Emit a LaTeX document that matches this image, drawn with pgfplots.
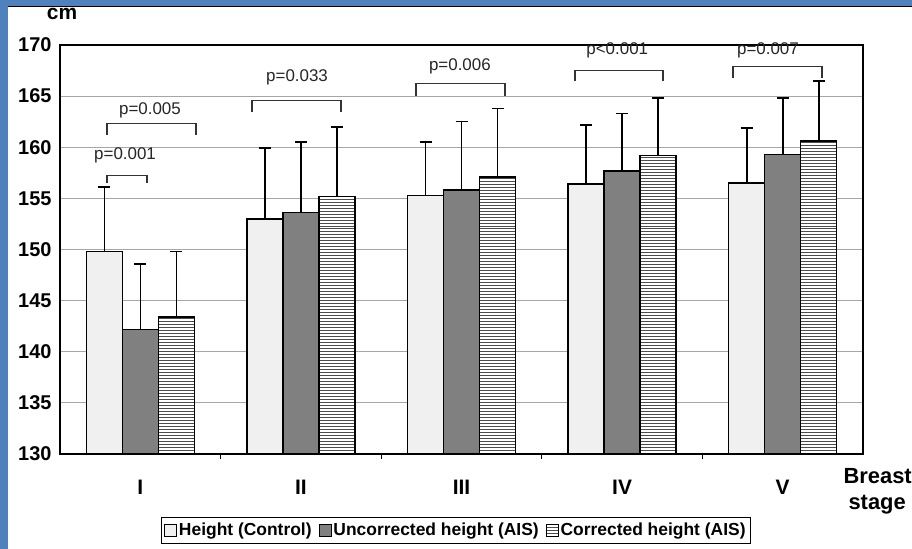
\documentclass[border=0pt]{standalone}
\usepackage{fontspec}
\setmainfont{Liberation Sans}
\usepackage{pgfplots}
\pgfplotsset{compat=1.18}
\usetikzlibrary{patterns}
\definecolor{slideblue}{RGB}{79,129,189}
\begin{document}
\begin{tikzpicture}
\useasboundingbox (0,0) rectangle (912bp,-549bp);
\fill[white] (0,0) rectangle (912bp,-549bp);
\fill[slideblue] (0,0) rectangle (912bp,-6bp);
\fill[slideblue] (0,0) rectangle (8bp,-549bp);
\draw[black, line width=0.8bp] (8bp,-6bp) -- (912bp,-6bp);
\begin{axis}[
  at={(60bp,-454bp)}, anchor=south west,
  width=803bp, height=409bp, scale only axis,
  ybar=0pt, bar width=36bp,
  xmin=-0.5, xmax=4.5, ymin=130, ymax=170,
  xtick={0,1,2,3,4}, xticklabels={I,II,III,IV,V},
  minor xtick={0.5,1.5,2.5,3.5},
  tick pos=left,
  major x tick style={draw=none},
  minor x tick style={black, line width=0.8bp},
  minor tick length=5bp,
  ytick={130,135,...,170},
  ytick style={draw=none},
  ymajorgrids, grid style={gray!70, line width=0.8bp},
  axis line style={black, line width=1.6bp},
  /pgf/number format/assume math mode=true,
  yticklabel style={font=\fontsize{20}{22}\selectfont\bfseries, xshift=-5bp},
  xticklabel style={font=\fontsize{21}{23}\selectfont\bfseries, yshift=-18bp},
  clip=false,
  legend columns=3,
  legend style={at={(0.493,-0.186)}, anchor=center, draw=black, line width=0.8bp,
    font=\fontsize{17.5}{20}\selectfont\bfseries, inner xsep=3bp, inner ysep=4bp,
    /tikz/every even column/.append style={column sep=5bp}},
  legend image code/.code={\draw[#1, line width=0.8bp] (0bp,-6bp) rectangle (12bp,6bp);},
  error bars/y dir=plus, error bars/y explicit,
  error bars/error bar style={black, line width=1.6bp},
  error bars/error mark options={black, line width=1.6bp, mark size=6bp, rotate=90},
]
\addplot[draw=black, line width=1.5bp, fill=gray!12] coordinates {
  (0,149.8) +- (0,6.3)
  (1,153.0) +- (0,6.9)
  (2,155.3) +- (0,5.2)
  (3,156.4) +- (0,5.8)
  (4,156.5) +- (0,5.4)
};
\addplot[draw=black, line width=1.5bp, fill=black!50] coordinates {
  (0,142.2) +- (0,6.4)
  (1,153.6) +- (0,6.9)
  (2,155.8) +- (0,6.7)
  (3,157.7) +- (0,5.6)
  (4,159.3) +- (0,5.5)
};
\addplot[draw=black, line width=1.5bp, fill=white, postaction={pattern=horizontal lines, pattern color=black!70}] coordinates {
  (0,143.4) +- (0,6.4)
  (1,155.2) +- (0,6.8)
  (2,157.1) +- (0,6.7)
  (3,159.2) +- (0,5.6)
  (4,160.6) +- (0,5.9)
};
\legend{Height (Control),Uncorrected height (AIS),Corrected height (AIS)}
% significance brackets
\begin{scope}[line width=1.2bp, black!80]
\draw (axis cs:-0.207,156.5) -- (axis cs:-0.207,157.25) -- (axis cs:0.042,157.25) -- (axis cs:0.042,156.5);
\draw (axis cs:-0.207,161.2) -- (axis cs:-0.207,162.35) -- (axis cs:0.347,162.35) -- (axis cs:0.347,161.2);
\draw (axis cs:0.696,163.4) -- (axis cs:0.696,164.6) -- (axis cs:1.25,164.6) -- (axis cs:1.25,163.4);
\draw (axis cs:1.717,165.0) -- (axis cs:1.717,166.2) -- (axis cs:2.271,166.2) -- (axis cs:2.271,165.0);
\draw (axis cs:2.707,166.5) -- (axis cs:2.707,167.5) -- (axis cs:3.255,167.5) -- (axis cs:3.255,166.5);
\draw (axis cs:3.69,166.8) -- (axis cs:3.69,167.9) -- (axis cs:4.245,167.9) -- (axis cs:4.245,166.8);
\end{scope}
\begin{scope}[every node/.style={font=\fontsize{17}{19}\selectfont, text=black!85}]
\node at (axis cs:-0.095,159.2) {p=0.001};
\node at (axis cs:0.06,163.6) {p=0.005};
\node at (axis cs:0.976,166.8) {p=0.033};
\node at (axis cs:1.99,167.9) {p=0.006};
\node at (axis cs:2.97,169.5) {p<0.001};
\node at (axis cs:3.908,169.5) {p=0.007};
\end{scope}
\end{axis}
\node[font=\fontsize{21}{23}\selectfont\bfseries] at (62bp,-14bp) {cm};
\node[font=\fontsize{22}{24}\selectfont\bfseries, anchor=west] at (840bp,-476bp) {Breast};
\node[font=\fontsize{22}{24}\selectfont\bfseries, anchor=west] at (845bp,-505bp) {stage};
\end{tikzpicture}
\end{document}
